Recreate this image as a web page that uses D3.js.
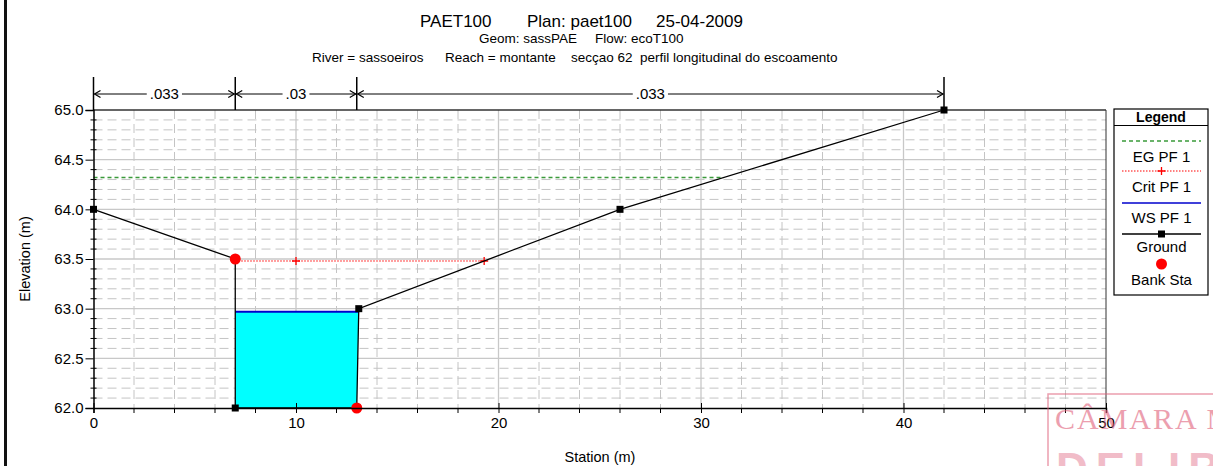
<!DOCTYPE html>
<html><head><meta charset="utf-8">
<script src="https://cdn.jsdelivr.net/npm/d3@7"></script>
<style>
body{margin:0;background:#fff}
svg{display:block;font-family:"Liberation Sans",Arial,Helvetica,sans-serif}
text{white-space:pre}
</style>
</head><body>
<svg id="c" width="1213" height="466"></svg>
<script>
// ---------------- data ----------------
const groundStation = [0, 7, 7, 13, 13.1, 26, 42];
const groundElev    = [64, 63.5, 62, 62, 63, 64, 65];
const bankStation = [7, 13];
const bankElev    = [63.5, 62];
const wsElev = 62.97;
const egElev = 64.32;
const critElev = 63.48;
const critMarkerStation = [10];
const manningStation = [0, 7, 13, 42];
const manningValue = [".033", ".03", ".033"];
const xTicks = [0, 10, 20, 30, 40, 50];
const yTicks = [62.0, 62.5, 63.0, 63.5, 64.0, 64.5, 65.0];
const titleParts = ["PAET100", "Plan: paet100", "25-04-2009"];
const subtitleParts = ["Geom: sassPAE", "Flow: ecoT100"];
const sub2Parts = ["River = sassoeiros", "Reach = montante", "secçao 62  perfil longitudinal do escoamento"];
const legendLabels = ["EG PF 1", "Crit PF 1", "WS PF 1", "Ground", "Bank Sta"];

// ---------------- layout ----------------
const svg = d3.select("#c");
svg.append("rect").attr("width",1213).attr("height",466).attr("fill","#fff");
const x = d3.scaleLinear().domain([0,50]).range([93.5,1106]);
const y = d3.scaleLinear().domain([62,65]).range([408,110]);

function groundCross(level, fromIdx){
  for(let i=fromIdx;i<groundStation.length-1;i++){
    const e0=groundElev[i], e1=groundElev[i+1];
    if((e0-level)*(e1-level)<=0 && e0!==e1){
      const t=(level-e0)/(e1-e0);
      return groundStation[i]+t*(groundStation[i+1]-groundStation[i]);
    }
  }
  return groundStation[groundStation.length-1];
}

// page border left
svg.append("rect").attr("x",4).attr("y",0).attr("width",3).attr("height",466).attr("fill","#111");

// grid
const g = svg.append("g");
const minorX = d3.range(2,50,2).filter(v=>v%10!==0);
const minorY = d3.range(62.1,65,0.1).map(v=>+v.toFixed(1)).filter(v=>Math.abs(v*2-Math.round(v*2))>1e-6);
g.selectAll(".mx").data(minorX).join("line")
  .attr("x1",d=>x(d)).attr("x2",d=>x(d)).attr("y1",y(65)).attr("y2",y(62))
  .attr("stroke","#c4c4c4").attr("stroke-dasharray","9,5");
g.selectAll(".my").data(minorY).join("line")
  .attr("x1",x(0)).attr("x2",x(50)).attr("y1",d=>y(d)).attr("y2",d=>y(d))
  .attr("stroke","#c4c4c4").attr("stroke-dasharray","9,5");
g.selectAll(".Mx").data(xTicks.slice(1,-1)).join("line")
  .attr("x1",d=>x(d)).attr("x2",d=>x(d)).attr("y1",y(65)).attr("y2",y(62))
  .attr("stroke","#c8c8c8").attr("stroke-width",1.3);
g.selectAll(".My").data(yTicks.slice(1,-1)).join("line")
  .attr("x1",x(0)).attr("x2",x(50)).attr("y1",d=>y(d)).attr("y2",d=>y(d))
  .attr("stroke","#c8c8c8").attr("stroke-width",1.3);

// frame top/right
svg.append("line").attr("x1",x(0)).attr("x2",x(50)).attr("y1",y(65)).attr("y2",y(65)).attr("stroke","#333").attr("stroke-width",1.3);
svg.append("line").attr("x1",x(50)).attr("x2",x(50)).attr("y1",y(65)).attr("y2",y(62)).attr("stroke","#333").attr("stroke-width",1);

// water fill
const xr = groundCross(wsElev, 3);
const waterPts = [[bankStation[0], wsElev],[xr, wsElev],[groundStation[3],groundElev[3]],[groundStation[2],groundElev[2]]];
svg.append("path").attr("d", d3.line().x(d=>x(d[0])).y(d=>y(d[1]))(waterPts)+"Z")
  .attr("fill","#00ffff").attr("stroke","none");
svg.append("line").attr("x1",x(bankStation[0])).attr("x2",x(xr)).attr("y1",y(wsElev)).attr("y2",y(wsElev))
  .attr("stroke","#0000cc").attr("stroke-width",2);

// EG
const egR = groundCross(egElev, 4);
svg.append("line").attr("x1",x(0)).attr("x2",x(egR)).attr("y1",y(egElev)).attr("y2",y(egElev))
  .attr("stroke","#3a9a3a").attr("stroke-width",1.4).attr("stroke-dasharray","4,3");

// Crit
const critR = groundCross(critElev, 4);
svg.append("line").attr("x1",x(bankStation[0])).attr("x2",x(critR)).attr("y1",y(critElev)).attr("y2",y(critElev))
  .attr("stroke","#ff0000").attr("stroke-width",1).attr("stroke-dasharray","1.5,1.5");
critMarkerStation.concat([critR]).forEach(s=>{
  svg.append("path").attr("d",`M${x(s)-4},${y(critElev)}h8M${x(s)},${y(critElev)-4}v8`)
    .attr("stroke","#ff0000").attr("stroke-width",1.3);
});

// ground
svg.append("path").datum(groundStation.map((s,i)=>[s,groundElev[i]]))
  .attr("d", d3.line().x(d=>x(d[0])).y(d=>y(d[1])))
  .attr("fill","none").attr("stroke","#000").attr("stroke-width",1.3);
svg.selectAll(".gm").data(groundStation.map((s,i)=>[s,groundElev[i]])).join("rect")
  .attr("x",d=>x(d[0])-3.5).attr("y",d=>y(d[1])-3.5).attr("width",7).attr("height",7).attr("fill","#000");

// bank sta
svg.selectAll(".bk").data(bankStation.map((s,i)=>[s,bankElev[i]])).join("circle")
  .attr("cx",d=>x(d[0])).attr("cy",d=>y(d[1])).attr("r",5.5).attr("fill","#ff0000");

// axes
const yAxis = d3.axisLeft(y).tickValues(yTicks).tickFormat(d3.format(".1f")).tickSize(8).tickPadding(2);
const ya = svg.append("g").attr("transform",`translate(${x(0)},0)`).call(yAxis);
ya.select(".domain").attr("stroke","#000").attr("stroke-width",1.5);
ya.selectAll("text").attr("font-size",15).attr("fill","#000").attr("font-family","Liberation Sans, Arial");
ya.selectAll(".tick line").attr("stroke","#000");
svg.selectAll(".ymt").data(minorY).join("line")
  .attr("x1",x(0)-3).attr("x2",x(0)+3).attr("y1",d=>y(d)).attr("y2",d=>y(d)).attr("stroke","#000");

const xAxis = d3.axisBottom(x).tickValues(xTicks).tickFormat(d3.format("d")).tickSize(5).tickPadding(4);
const xa = svg.append("g").attr("transform",`translate(0,${y(62)})`).call(xAxis);
xa.select(".domain").attr("stroke","#000").attr("stroke-width",1.5);
xa.selectAll("text").attr("font-size",15).attr("fill","#000").attr("font-family","Liberation Sans, Arial");
xa.selectAll(".tick line").attr("stroke","#000").attr("y1",-5);
svg.selectAll(".xmt").data(minorX).join("line")
  .attr("x1",d=>x(d)).attr("x2",d=>x(d)).attr("y1",y(62)).attr("y2",y(62)+5).attr("stroke","#000");

// axis titles
svg.append("text").attr("x",600).attr("y",462).attr("text-anchor","middle").attr("font-size",14.5).text("Station (m)");
svg.append("text").attr("transform","translate(30,259) rotate(-90)").attr("text-anchor","middle").attr("font-size",14.5).text("Elevation (m)");

// titles
const tx1 = [420, 527, 656];
titleParts.forEach((t,i)=>svg.append("text").attr("x",tx1[i]).attr("y",27).attr("font-size",17).text(t));
const tx2 = [479, 595];
subtitleParts.forEach((t,i)=>svg.append("text").attr("x",tx2[i]).attr("y",43).attr("font-size",13.5).text(t));
const tx3 = [312, 445, 571];
sub2Parts.forEach((t,i)=>svg.append("text").attr("x",tx3[i]).attr("y",62).attr("font-size",13.5).text(t));

// manning n dimension lines
const dimY = 94;
manningStation.forEach(s=>{
  svg.append("line").attr("x1",x(s)).attr("x2",x(s)).attr("y1",77).attr("y2",y(65)).attr("stroke","#000").attr("stroke-width",1.5);
});
manningValue.forEach((v,i)=>{
  const a=x(manningStation[i]), b=x(manningStation[i+1]), m=(a+b)/2;
  const lab = svg.append("text").attr("x",m).attr("y",dimY+5).attr("text-anchor","middle").attr("font-size",15).text(v);
  const w = lab.node().getComputedTextLength();
  svg.append("line").attr("x1",a+1).attr("x2",m-w/2-3).attr("y1",dimY).attr("y2",dimY).attr("stroke","#000");
  svg.append("line").attr("x1",m+w/2+3).attr("x2",b-1).attr("y1",dimY).attr("y2",dimY).attr("stroke","#000");
  svg.append("path").attr("d",`M${a+7},${dimY-3.5}L${a+1},${dimY}L${a+7},${dimY+3.5}`).attr("fill","none").attr("stroke","#000").attr("stroke-width",1.2);
  svg.append("path").attr("d",`M${b-7},${dimY-3.5}L${b-1},${dimY}L${b-7},${dimY+3.5}`).attr("fill","none").attr("stroke","#000").attr("stroke-width",1.2);
});

// legend
const L = svg.append("g");
L.append("rect").attr("x",1114).attr("y",109).attr("width",94).attr("height",186).attr("fill","#fff").attr("stroke","#000").attr("stroke-width",1.2);
L.append("line").attr("x1",1114).attr("x2",1208).attr("y1",125.5).attr("y2",125.5).attr("stroke","#000");
L.append("text").attr("x",1161).attr("y",122).attr("text-anchor","middle").attr("font-size",14).attr("font-weight","bold").text("Legend");
const lx1=1122, lx2=1201, lc=1161.5;
const symY = [141, 171, 203, 234, 264];
const labY = [162, 192, 223, 252, 285];
L.append("line").attr("x1",lx1).attr("x2",lx2).attr("y1",symY[0]).attr("y2",symY[0]).attr("stroke","#3a9a3a").attr("stroke-width",1.4).attr("stroke-dasharray","4,3");
L.append("line").attr("x1",lx1).attr("x2",lx2).attr("y1",symY[1]).attr("y2",symY[1]).attr("stroke","#ff0000").attr("stroke-dasharray","1.5,1.5");
L.append("path").attr("d",`M${lc-4},${symY[1]}h8M${lc},${symY[1]-4}v8`).attr("stroke","#ff0000").attr("stroke-width",1.3);
L.append("line").attr("x1",lx1).attr("x2",lx2).attr("y1",symY[2]).attr("y2",symY[2]).attr("stroke","#0000cc").attr("stroke-width",1.5);
L.append("line").attr("x1",lx1).attr("x2",lx2).attr("y1",symY[3]).attr("y2",symY[3]).attr("stroke","#000").attr("stroke-width",1.3);
L.append("rect").attr("x",lc-3.5).attr("y",symY[3]-3.5).attr("width",7).attr("height",7).attr("fill","#000");
L.append("circle").attr("cx",lc).attr("cy",symY[4]).attr("r",5.5).attr("fill","#ff0000");
legendLabels.forEach((t,i)=>L.append("text").attr("x",lc).attr("y",labY[i]).attr("text-anchor","middle").attr("font-size",15).text(t));

// stamp (scan artifact)
const S = svg.append("g").attr("opacity",0.6);
S.append("rect").attr("x",1048).attr("y",394).attr("width",200).attr("height",120).attr("fill","none").attr("stroke","#e0607a").attr("stroke-width",1.5);
S.append("text").attr("x",1055).attr("y",429).attr("font-family","Liberation Serif, serif").attr("font-size",30).attr("letter-spacing",2).attr("fill","#e0607a").text("CÂMARA M");
S.append("text").attr("x",1056).attr("y",484).attr("font-family","Liberation Sans, sans-serif").attr("font-weight","bold").attr("font-size",44).attr("letter-spacing",8).attr("fill","#e890a4").text("DELIB");
</script>
</body></html>
